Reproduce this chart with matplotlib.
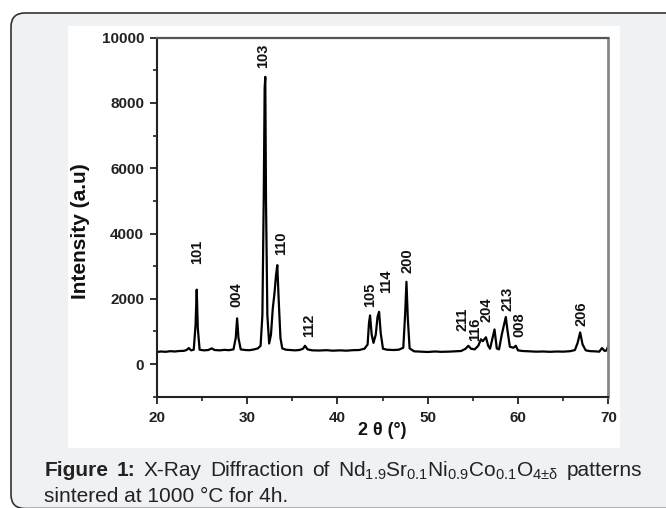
import matplotlib
matplotlib.use("Agg")
import matplotlib.pyplot as plt
from matplotlib.patches import FancyBboxPatch, Rectangle
from matplotlib.ticker import MultipleLocator

plt.rcParams['font.family'] = ['Liberation Sans', 'DejaVu Sans']
plt.rcParams['mathtext.fontset'] = 'custom'
plt.rcParams['mathtext.rm'] = 'Liberation Sans'
plt.rcParams['mathtext.it'] = 'Liberation Sans:italic'
plt.rcParams['mathtext.bf'] = 'Liberation Sans:bold'

# XRD pattern (2 theta in degrees, intensity in a.u.)
two_theta = [
    20.0, 20.5, 21.0, 21.5, 22.0, 22.5, 23.0, 23.3, 23.55, 23.8,
    24.1, 24.3, 24.43, 24.55, 24.75, 25.2, 25.7, 26.1, 26.4, 27.0,
    27.5, 28.0, 28.5, 28.75, 28.9, 29.05, 29.3, 29.8, 30.3, 30.8,
    31.2, 31.5, 31.7, 31.85, 31.95, 32.02, 32.1, 32.25, 32.45, 32.65,
    32.85, 33.05, 33.2, 33.35, 33.5, 33.7, 33.9, 34.3, 34.8, 35.3,
    35.8, 36.2, 36.42, 36.7, 37.2, 38.0, 38.8, 39.5, 40.3, 41.0,
    41.7, 42.4, 43.0, 43.35, 43.5, 43.62, 43.8, 44.0, 44.25, 44.45,
    44.62, 44.8, 45.05, 45.5, 46.2, 46.8, 47.3, 47.5, 47.65, 47.8,
    48.0, 48.5, 49.3, 50.0, 50.8, 51.5, 52.3, 53.0, 53.7, 54.2,
    54.5, 54.8, 55.2, 55.6, 55.9, 56.1, 56.45, 56.7, 56.9, 57.1,
    57.4, 57.65, 57.9, 58.2, 58.45, 58.65, 58.85, 59.1, 59.5, 59.75,
    60.0, 60.5, 61.3, 62.0, 62.8, 63.5, 64.3, 65.0, 65.8, 66.3,
    66.6, 66.88, 67.15, 67.5, 68.0, 68.5, 69.0, 69.3, 69.6, 69.8,
    70.0,
]
intensity = [
    370, 385, 375, 395, 385, 400, 405, 430, 490, 420,
    440, 1200, 2280, 1100, 440, 420, 430, 480, 430, 420,
    435, 425, 450, 800, 1400, 800, 450, 430, 425, 450,
    480, 560, 1500, 5100, 8450, 8800, 5000, 1500, 630, 900,
    1700, 2200, 2700, 3030, 2000, 800, 480, 440, 430, 420,
    430, 470, 560, 450, 420, 415, 425, 410, 420, 410,
    425, 430, 470, 600, 1250, 1490, 900, 650, 900, 1450,
    1600, 950, 470, 440, 430, 440, 500, 1500, 2520, 1400,
    480, 390, 380, 370, 385, 375, 380, 390, 400, 470,
    560, 470, 450, 560, 760, 700, 820, 560, 470, 700,
    1060, 480, 450, 900, 1200, 1440, 1000, 530, 500, 560,
    420, 400, 390, 380, 385, 375, 385, 380, 395, 430,
    650, 970, 600, 420, 395, 390, 380, 490, 400, 420,
    550,
]

# Miller index labels over the peaks
hkl_labels = ['101', '004', '103', '110', '112', '105', '114',
              '200', '211', '116', '204', '213', '008', '206']
hkl_theta = [24.5, 28.86, 31.8, 33.77, 36.9, 43.62, 45.39,
             47.75, 53.85, 55.25, 56.5, 58.83, 60.16, 67.07]
hkl_height = [3080, 1740, 9080, 3330, 840, 1740, 2170,
              2790, 1020, 720, 1280, 1640, 840, 1180]

x_ticks = [20, 30, 40, 50, 60, 70]
y_ticks = [0, 2000, 4000, 6000, 8000, 10000]

caption_line1 = ['Figure', '1:', 'X-Ray', 'Diffraction', 'of',
                 r'Nd$_{\mathrm{1.9}}$Sr$_{\mathrm{0.1}}$Ni$_{\mathrm{0.9}}$'
                 r'Co$_{\mathrm{0.1}}$O$_{\mathrm{4{\pm}\delta}}$',
                 'patterns']
caption_bold = [True, True, False, False, False, False, False]
caption_line2 = 'sintered at 1000 °C for 4h.'


def justify_line(bg, words, bold, left, right, y, size):
    """Spread the words of one caption line between left and right."""
    texts = [bg.text(left, y, w, fontsize=size, va='baseline', ha='left',
                     fontweight='bold' if b else 'normal', color='#222222')
             for w, b in zip(words, bold)]
    renderer = bg.figure.canvas.get_renderer()
    widths = [t.get_window_extent(renderer).width for t in texts]
    gap = (right - left - sum(widths)) / (len(texts) - 1)
    x = left
    for t, w in zip(texts, widths):
        t.set_x(x)
        x += w + gap


fig = plt.figure(figsize=(6.66, 5.08), dpi=100)

# Page decoration drawn in pixel units (y pointing down)
bg = fig.add_axes([0, 0, 1, 1], zorder=0)
bg.set_xlim(0, 666)
bg.set_ylim(508, 0)
bg.axis('off')
bg.add_patch(FancyBboxPatch((11, 13), 700, 495.5,
                            boxstyle='round,pad=0,rounding_size=14',
                            fc='#f0f1f3', ec='#333333', lw=1.2))
bg.add_patch(Rectangle((68, 26), 552, 422, fc='white', ec='none'))

justify_line(bg, caption_line1, caption_bold, 44.3, 641.7, 476.5, 15)
bg.text(44.3, 501.5, caption_line2, fontsize=15, va='baseline', ha='left',
        color='#222222')

# The diffraction pattern itself
ax = fig.add_axes([0.2353, 0.2191, 0.6781, 0.7067], zorder=1)
ax.plot(two_theta, intensity, color='black', lw=1.6)

for lab, t, h in zip(hkl_labels, hkl_theta, hkl_height):
    ax.text(t, h, lab, rotation=90, ha='center', va='bottom',
            fontsize=10.5, fontweight='bold', color='#111111')

ax.set_xlim(20, 70)
ax.set_ylim(-1000, 10000)
ax.set_xticks(x_ticks)
ax.set_yticks(y_ticks)
ax.xaxis.set_minor_locator(MultipleLocator(5))
ax.yaxis.set_minor_locator(MultipleLocator(1000))
ax.tick_params(which='major', direction='out', length=5, width=1.3,
               labelsize=11, color='#222222', labelcolor='#222222')
ax.tick_params(axis='x', which='major', pad=5)
ax.tick_params(axis='y', which='major', pad=4)
ax.tick_params(which='minor', direction='out', length=3, width=1.2,
               color='#222222')
for lab in ax.get_xticklabels() + ax.get_yticklabels():
    lab.set_fontweight('bold')

for side in ['left', 'bottom']:
    ax.spines[side].set_color('#222222')
    ax.spines[side].set_linewidth(1.5)
ax.spines['top'].set_color('#555555')
ax.spines['top'].set_linewidth(1.6)
ax.spines['right'].set_color('#888888')
ax.spines['right'].set_linewidth(2.0)

ax.set_xlabel('2 θ (°)', fontsize=13, fontweight='bold', color='#111111')
ax.xaxis.set_label_coords(0.5, -0.07)
ax.set_ylabel('Intensity (a.u)', fontsize=15, fontweight='bold',
              color='#111111')
ax.yaxis.set_label_coords(-0.148, 0.46)

fig.savefig('out.png', dpi=100)
